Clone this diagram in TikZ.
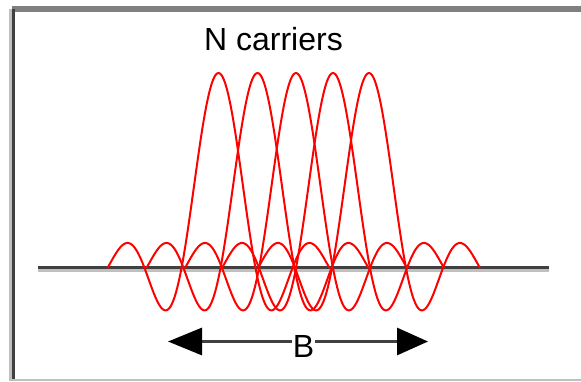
\documentclass[tikz,border=0pt]{standalone}
\usepackage{fontspec}
\setmainfont{Liberation Sans}
\usetikzlibrary{arrows.meta}
\definecolor{framegray}{RGB}{128,128,128}
\definecolor{darkline}{RGB}{64,64,64}
\definecolor{lightline}{RGB}{192,192,192}
\definecolor{carred}{RGB}{255,0,0}
\tikzset{
  carrier/.style={draw=carred, line width=2pt, line join=round},
  label text/.style={font=\fontsize{32}{32}\selectfont, text=black, inner sep=0pt, anchor=base},
  bandarrow/.style={draw=darkline, line width=3pt,
    {Triangle[length=34pt,width=27pt,color=black]}-{Triangle[length=31pt,width=27pt,color=black]}}
}
\begin{document}
\begin{tikzpicture}[x=1pt,y=-1pt]
\useasboundingbox (0,0) rectangle (581,381);
% frame
\fill[framegray] (12,6) rectangle (581,12);
\fill[lightline] (9,9) rectangle (12,381);
\fill[darkline] (12,9) rectangle (15,381);
\fill[lightline] (12,379) rectangle (581,381);
% axis
\coordinate (axl) at (38,267.5);
\coordinate (axr) at (549,267.5);
\coordinate (axls) at (38,270.5);
\coordinate (axrs) at (549,270.5);
\draw[lightline, line width=3pt] (axls) -- (axrs);
\draw[darkline, line width=3pt] (axl) -- (axr);
% carriers
\foreach \c in {218.5,257.5,296,333,369}{
  \draw[carrier] plot[domain=-111:111, samples=240, smooth]
    ({\c+\x},{268-195*sin((pi*\x/37+0.00001) r)/(pi*\x/37+0.00001)});
}
% title
\node[label text] (title) at (273.5,50) {N carriers};
% bandwidth arrow
\coordinate (la) at (168,341.5);
\coordinate (ra) at (428,341.5);
\draw[bandarrow] (la) -- (ra);
\node[label text, fill=white, inner xsep=0.5pt] (B) at (303.5,357) {B};
\end{tikzpicture}
\end{document}
